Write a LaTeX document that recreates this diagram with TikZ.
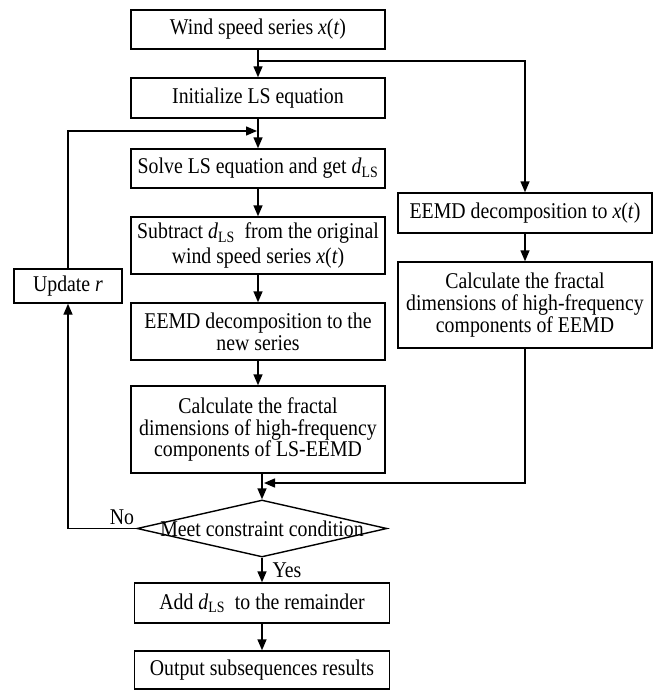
\documentclass[tikz,border=0pt]{standalone}
\usepackage{fontspec}
\setmainfont{Liberation Serif}[FakeStretch=0.88]
\usetikzlibrary{arrows.meta,shapes.geometric,calc}
\newcommand{\dls}{\textit{d}\textsubscript{LS}}
\newcommand{\xt}{\textit{x}(\textit{t})}
\tikzset{
  txt/.style={font=\fontsize{22.5}{21.7}\selectfont},
  boxnode/.style={draw, line width=1.4pt, minimum width=254pt, inner sep=0pt, align=center, txt},
  arr/.style={line width=1.4pt, -{Triangle[length=11pt,width=9pt]}},
  lbl/.style={txt, inner sep=0pt}
}
\begin{document}
\begin{tikzpicture}[x=1pt,y=-1pt]
\useasboundingbox (0,0) rectangle (654,690);
% main column
\node[boxnode, minimum height=39pt] (wind) at (258,29.5) {Wind speed series \xt};
\node[boxnode, minimum height=40pt] (init) at (258,98) {Initialize LS equation};
\node[boxnode, minimum height=39pt] (solve) at (258,168.5) {Solve LS equation and get \dls};
\node[boxnode, minimum height=57pt, font=\fontsize{22.5}{24.5}\selectfont] (sub) at (258,245.5) {Subtract \dls\ \ from the original\\wind speed series \xt};
\node[boxnode, minimum height=57pt] (eemdn) at (258,331.5) {EEMD decomposition to the\\new series};
\node[boxnode, minimum height=87pt] (calc) at (258,429.5) {Calculate the fractal\\dimensions of high-frequency\\components of LS-EEMD};
\node[diamond, draw, line width=1.4pt, minimum width=250pt, minimum height=57pt, inner sep=0pt, txt]
  (dec) at (262,528.5) {\makebox[0pt]{Meet constraint condition}};
\node[boxnode, minimum width=255pt, minimum height=40pt] (add) at (262,603) {Add \dls\ \ to the remainder};
\node[boxnode, minimum width=255pt, minimum height=38pt] (out) at (262,670) {Output subsequences results};
% right column
\node[boxnode, minimum height=40pt] (eemdx) at (525,213) {EEMD decomposition to \xt};
\node[boxnode, minimum height=86pt] (calcx) at (525,305) {Calculate the fractal\\dimensions of high-frequency\\components of EEMD};
% update
\node[boxnode, minimum width=108pt, minimum height=34pt] (upd) at (68,286) {Update \textit{r}};
% labels
\node[lbl] (no) at (122,517) {No};
\node[lbl] (yes) at (287,570) {Yes};
% coordinates
\coordinate (br) at (258,61);
\coordinate (lp) at (257,131);
\coordinate (mg) at (264,483);
% connectors
\draw[arr] (wind) -- (init);
\draw[arr] (br) -| (eemdx.north);
\draw[arr] (init) -- (solve);
\draw[arr] (upd.north) |- (lp);
\draw[arr] (solve) -- (sub);
\draw[arr] (sub) -- (eemdn);
\draw[arr] (eemdn) -- (calc);
\draw[arr] (calc.south -| dec.north) -- (dec.north);
\draw[arr] (eemdx) -- (calcx);
\draw[arr] (calcx.south) |- (mg);
\draw[arr] (dec.west) -| (upd.south);
\draw[arr] (dec.south) -- (add.north);
\draw[arr] (add) -- (out);
\end{tikzpicture}
\end{document}
